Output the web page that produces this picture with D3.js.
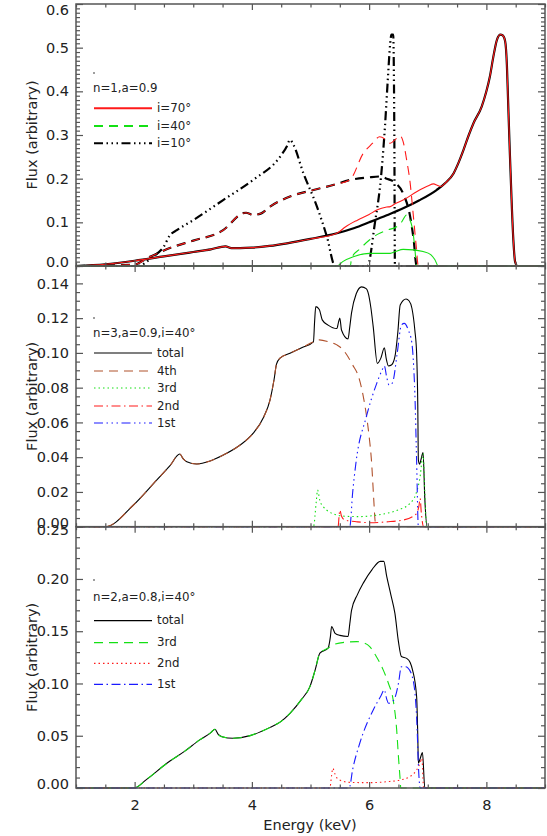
<!DOCTYPE html>
<html>
<head>
<meta charset="utf-8">
<script src="https://cdn.jsdelivr.net/npm/d3@7"></script>
<style>
	body { margin: 0; background: #fff; }
	svg { display: block; }
	text { font-family: "DejaVu Sans", sans-serif; fill: #222; }
	.axis path { display: none; }
	.axis line { stroke: #555; stroke-width: 1.2; }
</style>
</head>
<body>
<script>
// ---- data: [energy keV, flux] ----
const energyMajor = [2, 4, 6, 8];

// top panel, n=1, a=0.9
const p1Solid = [[1,0],[1.5,0.004],[2,0.012],[2.5,0.022],[3,0.032],[3.3,0.038],[3.55,0.045],[3.65,0.041],[3.8,0.041],[4,0.042],[4.3,0.046],[4.6,0.052],[5,0.062],[5.45,0.075],[5.75,0.087],[6,0.1],[6.3,0.116],[6.58,0.132],[6.85,0.15],[7.15,0.174],[7.3,0.19],[7.44,0.212],[7.52,0.235],[7.61,0.266],[7.7,0.3],[7.78,0.327],[7.92,0.365],[8,0.4],[8.06,0.434],[8.12,0.48],[8.18,0.518],[8.24,0.53],[8.28,0.528],[8.32,0.515],[8.35,0.46],[8.37,0.38],[8.4,0.26],[8.43,0.151],[8.46,0.06],[8.49,0.01],[8.53,0],[9,0]];
const p1SolidRed = [[1,0],[1.5,0.004],[2,0.012],[2.5,0.022],[3,0.032],[3.3,0.038],[3.55,0.045],[3.65,0.041],[3.8,0.041],[4,0.042],[4.3,0.046],[4.6,0.052],[5,0.062],[5.45,0.075],[5.6,0.09],[5.8,0.105],[6,0.118],[6.13,0.128],[6.3,0.135],[6.36,0.136],[6.45,0.143],[6.58,0.151],[6.81,0.17],[7,0.183],[7.1,0.188],[7.16,0.185],[7.22,0.182],[7.3,0.19],[7.44,0.212],[7.52,0.235],[7.61,0.266],[7.7,0.3],[7.78,0.327],[7.92,0.365],[8,0.4],[8.06,0.434],[8.12,0.48],[8.18,0.518],[8.24,0.53],[8.28,0.528],[8.32,0.515],[8.35,0.46],[8.37,0.38],[8.4,0.26],[8.43,0.151],[8.46,0.06],[8.49,0.01],[8.53,0],[9,0]];
const p1Dashed = [[1,0],[1.98,0.003],[2.26,0.021],[2.66,0.044],[3,0.058],[3.51,0.082],[3.85,0.121],[3.9,0.122],[4.02,0.117],[4.15,0.12],[4.31,0.136],[4.65,0.159],[5.05,0.174],[5.4,0.186],[5.67,0.197],[6,0.203],[6.18,0.205],[6.3,0.2],[6.44,0.191],[6.58,0.166],[6.7,0.113],[6.76,0.06],[6.81,0],[9,0]];
const p1DashedRed = [[1,0],[1.98,0.003],[2.26,0.021],[2.66,0.044],[3,0.058],[3.51,0.082],[3.85,0.121],[3.9,0.122],[4.02,0.117],[4.15,0.12],[4.31,0.136],[4.65,0.159],[5.05,0.174],[5.4,0.186],[5.67,0.197],[5.9,0.258],[6.05,0.28],[6.18,0.296],[6.28,0.29],[6.36,0.281],[6.45,0.29],[6.53,0.298],[6.58,0.285],[6.64,0.243],[6.7,0.19],[6.75,0.121],[6.8,0.05],[6.84,0],[9,0]];
const p1DashedGreen = [[1,0],[5.68,0],[5.7,0.018],[5.85,0.04],[6.01,0.06],[6.15,0.073],[6.3,0.082],[6.47,0.09],[6.55,0.1],[6.64,0.117],[6.7,0.105],[6.75,0.076],[6.78,0.04],[6.81,0],[9,0]];
const p1SolidGreen = [[1,0],[5.45,0],[5.55,0.01],[5.73,0.021],[6.01,0.029],[6.36,0.029],[6.45,0.033],[6.58,0.038],[6.75,0.037],[6.92,0.033],[7.05,0.026],[7.12,0.015],[7.18,0],[9,0]];
const p1DashDot = [[1,0],[2.05,0],[2.3,0.02],[2.5,0.045],[2.6,0.07],[2.72,0.082],[3,0.105],[3.51,0.151],[4.02,0.197],[4.48,0.25],[4.6,0.275],[4.65,0.289],[4.7,0.28],[4.88,0.212],[5.11,0.136],[5.28,0.067],[5.42,0],[5.97,0],[6.1,0.1],[6.2,0.2],[6.27,0.319],[6.32,0.43],[6.36,0.51],[6.38,0.53],[6.41,0.53],[6.43,0.3],[6.44,0],[9,0]];

// middle panel, n=3, a=0.9, i=40
const p2Total = [[1,0],[1.5,0],[1.98,0.0125],[2.38,0.027],[2.6,0.035],[2.77,0.0418],[2.83,0.039],[2.89,0.0374],[3.06,0.0361],[3.3,0.038],[3.57,0.0422],[3.8,0.047],[4.02,0.0537],[4.2,0.063],[4.31,0.073],[4.38,0.085],[4.42,0.0935],[4.48,0.097],[4.65,0.0998],[4.85,0.103],[5.05,0.1064],[5.07,0.118],[5.09,0.1266],[5.15,0.125],[5.2,0.119],[5.3,0.116],[5.45,0.114],[5.48,0.118],[5.5,0.12],[5.53,0.113],[5.64,0.108],[5.67,0.115],[5.7,0.123],[5.78,0.134],[5.87,0.138],[5.95,0.137],[5.98,0.135],[6.03,0.126],[6.07,0.115],[6.14,0.094],[6.2,0.097],[6.26,0.103],[6.29,0.097],[6.33,0.0925],[6.38,0.093],[6.44,0.0978],[6.49,0.112],[6.53,0.1276],[6.63,0.131],[6.68,0.13],[6.73,0.1257],[6.78,0.113],[6.81,0.0998],[6.83,0.07],[6.84,0.0384],[6.86,0.036],[6.88,0.038],[6.92,0.0426],[6.95,0.016],[6.99,0],[9,0]];
const p2Fourth = [[1,0],[1.5,0],[1.98,0.0125],[2.38,0.027],[2.6,0.035],[2.77,0.0418],[2.83,0.039],[2.89,0.0374],[3.06,0.0361],[3.3,0.038],[3.57,0.0422],[3.8,0.047],[4.02,0.0537],[4.2,0.063],[4.31,0.073],[4.38,0.085],[4.42,0.0935],[4.48,0.097],[4.65,0.0998],[4.85,0.103],[5.05,0.1064],[5.15,0.1075],[5.3,0.1065],[5.45,0.1046],[5.55,0.102],[5.64,0.0978],[5.72,0.093],[5.82,0.0863],[5.9,0.075],[5.95,0.065],[6,0.052],[6.04,0.038],[6.08,0.015],[6.1,0.004],[6.12,0],[9,0]];
const p2Third = [[1,0],[5.05,0],[5.1,0.015],[5.12,0.0211],[5.16,0.015],[5.22,0.0115],[5.32,0.0085],[5.45,0.0067],[5.6,0.006],[5.84,0.0058],[6.1,0.0065],[6.3,0.0077],[6.5,0.0097],[6.7,0.0135],[6.8,0.019],[6.87,0.0288],[6.92,0.042],[6.95,0.02],[6.98,0],[9,0]];
const p2Second = [[1,0],[5.47,0],[5.49,0.007],[5.5,0.0096],[5.53,0.006],[5.59,0.0038],[5.8,0.0028],[6.02,0.0023],[6.3,0.0028],[6.58,0.0038],[6.75,0.006],[6.81,0.0077],[6.85,0.012],[6.87,0.0163],[6.89,0.008],[6.93,0],[9,0]];
const p2First = [[1,0],[5.67,0],[5.72,0.02],[5.78,0.038],[5.95,0.063],[6.13,0.0825],[6.22,0.09],[6.26,0.0925],[6.3,0.086],[6.34,0.0815],[6.38,0.082],[6.41,0.084],[6.48,0.1],[6.55,0.116],[6.6,0.117],[6.67,0.113],[6.73,0.1055],[6.76,0.092],[6.78,0.0768],[6.81,0.038],[6.84,0],[9,0]];

// bottom panel, n=2, a=0.8, i=40
const p3Total = [[1,0],[1.99,0],[2.2,0.008],[2.55,0.0237],[2.85,0.035],[3.11,0.046],[3.3,0.053],[3.37,0.0562],[3.43,0.051],[3.49,0.0491],[3.68,0.0476],[3.97,0.0501],[4.31,0.058],[4.48,0.063],[4.65,0.0715],[4.85,0.085],[4.99,0.097],[5.08,0.113],[5.16,0.129],[5.3,0.1338],[5.34,0.145],[5.36,0.1545],[5.42,0.148],[5.5,0.146],[5.64,0.145],[5.67,0.157],[5.7,0.17],[5.8,0.185],[5.9,0.196],[6.05,0.209],[6.19,0.2168],[6.25,0.2168],[6.3,0.2024],[6.37,0.185],[6.44,0.167],[6.5,0.14],[6.55,0.1258],[6.64,0.124],[6.7,0.12],[6.74,0.113],[6.81,0.0875],[6.83,0.05],[6.84,0.0237],[6.87,0.028],[6.91,0.0338],[6.95,0],[9,0]];
const p3Third = [[1,0],[1.99,0],[2.2,0.008],[2.55,0.0237],[2.85,0.035],[3.11,0.046],[3.3,0.053],[3.37,0.0562],[3.43,0.051],[3.49,0.0491],[3.68,0.0476],[3.97,0.0501],[4.31,0.058],[4.48,0.063],[4.65,0.0715],[4.85,0.085],[4.99,0.097],[5.08,0.113],[5.16,0.129],[5.3,0.1338],[5.39,0.137],[5.6,0.1395],[5.79,0.14],[5.9,0.139],[6.01,0.1353],[6.12,0.126],[6.24,0.113],[6.33,0.1],[6.41,0.0843],[6.47,0.0556],[6.5,0.03],[6.53,0.0077],[6.54,0],[9,0]];
const p3Second = [[1,0],[5.33,0],[5.36,0.012],[5.38,0.0189],[5.42,0.013],[5.45,0.0096],[5.55,0.0065],[5.67,0.0054],[6.01,0.0051],[6.3,0.006],[6.53,0.0077],[6.7,0.011],[6.81,0.0172],[6.87,0.024],[6.9,0.0284],[6.93,0],[9,0]];
const p3First = [[1,0],[5.66,0],[5.72,0.018],[5.84,0.0428],[6.07,0.0747],[6.2,0.088],[6.26,0.0939],[6.3,0.085],[6.33,0.0811],[6.42,0.084],[6.5,0.1],[6.55,0.116],[6.62,0.116],[6.66,0.115],[6.75,0.1034],[6.81,0.068],[6.85,0.011],[6.87,0],[9,0]];

// ---- styles ----
const dash = {
	solid: null,
	dashed: '9,6',
	dotted: '1.5,3',
	dashdot: '9,3.5,1.5,3.5',
	dash3dot: '9,3.5,1.5,3.5,1.5,3.5,1.5,3.5'
};
const RED = '#ff1a1a', GREEN = '#14e014', BLUE = '#1a1aff', BROWN = '#b0522d';

const panels = [
	{
		top: 4, bottom: 266, ymax: 0.6, major: 0.1, minor: 0.01, fmt: '.1f', topShift: 6,
		title: 'n=1,a=0.9', dotY: 73, titleY: 92, rowY: [108.3, 126, 143.3],
		series: [
			{ data: p1Solid, color: '#000', style: 'solid', w: 2.2 },
			{ data: p1Dashed, color: '#000', style: 'dashed', w: 2.2 },
			{ data: p1DashDot, color: '#000', style: 'dash3dot', w: 2.2 },
			{ data: p1SolidRed, color: RED, style: 'solid', w: 1.1 },
			{ data: p1DashedRed, color: RED, style: 'dashed', w: 1.1 },
			{ data: p1SolidGreen, color: GREEN, style: 'solid', w: 1.1 },
			{ data: p1DashedGreen, color: GREEN, style: 'dashed', w: 1.1 }
		],
		legend: [
			{ label: 'i=70°', color: RED, style: 'solid', w: 2 },
			{ label: 'i=40°', color: GREEN, style: 'dashed', w: 2 },
			{ label: 'i=10°', color: '#000', style: 'dash3dot', w: 2 }
		]
	},
	{
		top: 266, bottom: 526.7, ymax: 0.15, major: 0.02, minor: 0.005, fmt: '.2f', topShift: 0,
		title: 'n=3,a=0.9,i=40°', dotY: 318, titleY: 337, rowY: [353, 371, 388, 406, 423],
		series: [
			{ data: p2Total, color: '#000', style: 'solid', w: 1.1 },
			{ data: p2Fourth, color: BROWN, style: 'dashed', w: 1.1 },
			{ data: p2Third, color: GREEN, style: 'dotted', w: 1.1 },
			{ data: p2Second, color: RED, style: 'dashdot', w: 1.1 },
			{ data: p2First, color: BLUE, style: 'dash3dot', w: 1.1 }
		],
		legend: [
			{ label: 'total', color: '#000', style: 'solid', w: 1.2 },
			{ label: '4th', color: BROWN, style: 'dashed', w: 1.2 },
			{ label: '3rd', color: GREEN, style: 'dotted', w: 1.2 },
			{ label: '2nd', color: RED, style: 'dashdot', w: 1.2 },
			{ label: '1st', color: BLUE, style: 'dash3dot', w: 1.2 }
		]
	},
	{
		top: 526.7, bottom: 788, ymax: 0.25, major: 0.05, minor: 0.01, fmt: '.2f', topShift: 3,
		title: 'n=2,a=0.8,i=40°', dotY: 580, titleY: 601, rowY: [620.7, 642.7, 663.3, 684.3],
		series: [
			{ data: p3Total, color: '#000', style: 'solid', w: 1.1 },
			{ data: p3Third, color: GREEN, style: 'dashed', w: 1.1 },
			{ data: p3Second, color: RED, style: 'dotted', w: 1.1 },
			{ data: p3First, color: BLUE, style: 'dashdot', w: 1.1 }
		],
		legend: [
			{ label: 'total', color: '#000', style: 'solid', w: 1.2 },
			{ label: '3rd', color: GREEN, style: 'dashed', w: 1.2 },
			{ label: '2nd', color: RED, style: 'dotted', w: 1.2 },
			{ label: '1st', color: BLUE, style: 'dashdot', w: 1.2 }
		]
	}
];

const W = 547, H = 836, X0 = 76, X1 = 545;
const x = d3.scaleLinear().domain([1, 9]).range([X0, X1]);
const xMinor = d3.range(2, 19).map(i => i / 2).filter(v => energyMajor.indexOf(v) < 0);

const svg = d3.select('body').append('svg').attr('width', W).attr('height', H);

panels.forEach((p, k) => {
	const last = k == panels.length - 1;
	const y = d3.scaleLinear().domain([0, p.ymax]).range([p.bottom, p.top]);
	const g = svg.append('g').attr('class', 'panel');

	const majors = d3.range(Math.round(p.ymax / p.major + 1e-6) + 1).map(i => +(i * p.major).toFixed(4)).filter(v => v <= p.ymax + 1e-9);
	const minors = d3.range(Math.round(p.ymax / p.minor) + 1).map(i => +(i * p.minor).toFixed(4))
		.filter(v => !majors.some(m => Math.abs(m - v) < 1e-6));

	// curves
	const line = d3.line().x(d => x(d[0])).y(d => y(d[1])).curve(d3.curveMonotoneX);
	g.append('g').selectAll('path')
		.data(p.series)
		.enter()
		.append('path')
		.attr('d', d => line(d.data))
		.style('fill', 'none')
		.style('stroke', d => d.color)
		.style('stroke-width', d => d.w)
		.style('stroke-dasharray', d => dash[d.style])
		.style('stroke-linejoin', 'round')

	// left axis with labels
	const left = g.append('g').attr('class', 'axis').attr('transform', `translate(${X0},0)`)
		.call(d3.axisLeft(y).tickValues(majors).tickSize(-7).tickPadding(7).tickFormat(d3.format(p.fmt)));
	left.selectAll('text').style('font-size', '14.5px').style('fill', '#222')
		.attr('y', d => d == 0 ? -4 : (Math.abs(d - p.ymax) < 1e-9 ? p.topShift : 0));
	g.append('g').attr('class', 'axis').attr('transform', `translate(${X0},0)`)
		.call(d3.axisLeft(y).tickValues(minors).tickSize(-4).tickFormat(''));

	// right axis
	g.append('g').attr('class', 'axis').attr('transform', `translate(${X1},0)`)
		.call(d3.axisRight(y).tickValues(majors).tickSize(-7).tickFormat(''));
	g.append('g').attr('class', 'axis').attr('transform', `translate(${X1},0)`)
		.call(d3.axisRight(y).tickValues(minors).tickSize(-4).tickFormat(''));

	// top and bottom
	const bottom = g.append('g').attr('class', 'axis').attr('transform', `translate(0,${p.bottom})`)
		.call(d3.axisBottom(x).tickValues(energyMajor).tickSize(-6).tickPadding(12).tickFormat(last ? d3.format('d') : ''));
	bottom.selectAll('text').style('font-size', '14.5px').style('fill', '#222');
	g.append('g').attr('class', 'axis').attr('transform', `translate(0,${p.bottom})`)
		.call(d3.axisBottom(x).tickValues(xMinor).tickSize(-3.5).tickFormat(''));
	g.append('g').attr('class', 'axis').attr('transform', `translate(0,${p.top})`)
		.call(d3.axisTop(x).tickValues(energyMajor).tickSize(-6).tickFormat(''));
	g.append('g').attr('class', 'axis').attr('transform', `translate(0,${p.top})`)
		.call(d3.axisTop(x).tickValues(xMinor).tickSize(-3.5).tickFormat(''));

	// frame
	g.append('rect')
		.attr('x', X0).attr('y', p.top)
		.attr('width', X1 - X0).attr('height', p.bottom - p.top)
		.style('fill', 'none').style('stroke', '#555').style('stroke-width', 1.5)

	// y title
	g.append('text')
		.attr('transform', `translate(36.5,${(p.top + p.bottom) / 2}) rotate(-90)`)
		.attr('text-anchor', 'middle')
		.style('font-size', '14.5px')
		.text('Flux (arbitrary)')

	// legend
	const lg = g.append('g').attr('class', 'legend');
	lg.append('circle').attr('cx', 94).attr('cy', p.dotY).attr('r', 0.8).style('fill', '#222');
	lg.append('text').attr('x', 93).attr('y', p.titleY).style('font-size', '11.8px').text(p.title);
	const rows = lg.selectAll('g.row')
		.data(p.legend)
		.enter()
		.append('g')
		.attr('class', 'row')
		.attr('transform', (d, i) => `translate(0,${p.rowY[i]})`)
	rows.append('line')
		.attr('x1', 94).attr('x2', 152)
		.style('stroke', d => d.color)
		.style('stroke-width', d => d.w)
		.style('stroke-dasharray', d => dash[d.style])
	rows.append('text')
		.attr('x', 157).attr('y', 3.5)
		.style('font-size', '11.8px')
		.text(d => d.label)
});

svg.append('text')
	.attr('x', 310).attr('y', 830)
	.attr('text-anchor', 'middle')
	.style('font-size', '14.5px')
	.text('Energy (keV)')
</script>
</body>
</html>
